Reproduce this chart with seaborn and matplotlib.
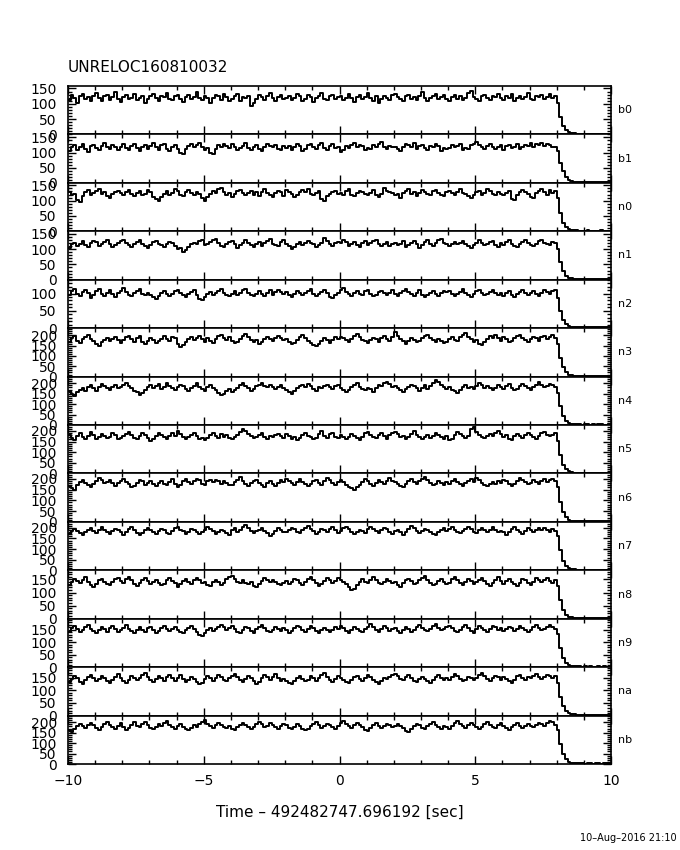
import numpy as np
import pandas as pd
import matplotlib
matplotlib.use('Agg')
import matplotlib.pyplot as plt
import seaborn as sns
from matplotlib.ticker import MultipleLocator

sns.set_theme(style='ticks')
plt.rcParams['font.family'] = ['DejaVu Sans']
plt.rcParams['text.color'] = 'black'
plt.rcParams['xtick.color'] = 'black'
plt.rcParams['ytick.color'] = 'black'

# detectores y limites del eje y
detectors = ['b0', 'b1', 'n0', 'n1', 'n2', 'n3', 'n4', 'n5', 'n6', 'n7', 'n8', 'n9', 'na', 'nb']
ymax = [158, 160, 158, 158, 140, 235, 232, 228, 225, 228, 185, 195, 192, 232]

# bins de tiempo de 0.1 s (borde izquierdo) de -10 a 10
t_left = np.linspace(-10, 9.9, 200)

# tasas (cuentas)
b0 = [112, 128, 119, 104, 125, 133, 116, 121, 108, 127, 136, 118, 110, 124, 130, 113, 122, 139, 117, 106,
      121, 129, 114, 120, 132, 111, 118, 126, 103, 115, 124, 131, 119, 109, 127, 122, 135, 116, 112, 125,
      130, 117, 107, 121, 128, 114, 123, 137, 120, 111, 126, 118, 104, 119, 129, 124, 113, 132, 121, 108,
      116, 125, 131, 110, 122, 118, 127, 94, 101, 117, 128, 121, 113, 126, 134, 119, 108, 123, 129, 115,
      120, 127, 111, 118, 133, 124, 109, 116, 128, 121, 105, 119, 126, 136, 117, 112, 124, 130, 115, 122,
      127, 113, 120, 131, 118, 107, 123, 129, 116, 121, 135, 119, 110, 125, 102, 114, 126, 120, 111, 128,
      133, 121, 115, 108, 124, 130, 117, 122, 113, 127, 138, 120, 109, 118, 126, 131, 116, 123, 129, 114,
      110, 122, 128, 117, 125, 112, 119, 134, 141, 121, 116, 108, 124, 130, 118, 113, 127, 122, 133, 119,
      112, 124, 118, 131, 109, 120, 127, 115, 122, 136, 117, 111, 126, 121, 129, 114, 123, 132, 118, 126,
      101, 58, 29, 14, 7, 5, 4, 3, 3, 2, 3, 2, 2, 3, 2, 2, 3, 2, 2, 3]
b1 = [106, 119, 124, 110, 117, 129, 113, 102, 121, 126, 115, 108, 123, 131, 117, 111, 125, 120, 107, 118,
      127, 114, 109, 122, 130, 116, 104, 119, 125, 113, 121, 133, 118, 110, 124, 128, 112, 105, 120, 126,
      113, 100, 96, 111, 122, 129, 117, 125, 132, 119, 109, 115, 99, 94, 112, 124, 118, 127, 121, 114,
      128, 120, 108, 115, 123, 131, 116, 110, 119, 126, 113, 104, 117, 129, 122, 118, 125, 111, 107, 121,
      116, 123, 110, 118, 127, 121, 105, 113, 124, 130, 119, 112, 126, 133, 115, 109, 121, 128, 114, 119,
      103, 108, 121, 115, 124, 131, 117, 126, 122, 110, 116, 113, 125, 119, 128, 134, 118, 111, 123, 117,
      120, 112, 106, 119, 127, 124, 118, 132, 113, 121, 125, 116, 109, 122, 117, 128, 123, 104, 115, 111,
      114, 126, 119, 122, 128, 108, 116, 111, 124, 130, 134, 125, 118, 113, 123, 127, 119, 112, 117, 124,
      110, 121, 126, 116, 120, 129, 113, 118, 125, 122, 132, 119, 127, 126, 133, 121, 128, 124, 120, 117,
      104, 66, 38, 20, 11, 6, 4, 3, 3, 2, 2, 3, 2, 2, 2, 3, 2, 2, 3, 2]
n0 = [128, 117, 122, 101, 97, 115, 129, 134, 119, 126, 131, 137, 122, 128, 116, 110, 121, 127, 133, 124,
      118, 129, 136, 121, 114, 126, 132, 119, 123, 135, 127, 113, 104, 98, 111, 122, 130, 118, 125, 139,
      131, 120, 114, 127, 135, 124, 117, 129, 122, 108, 100, 112, 123, 131, 126, 137, 140, 128, 119, 125,
      113, 121, 130, 136, 124, 118, 126, 133, 120, 127, 115, 129, 138, 125, 119, 112, 124, 131, 127, 116,
      135, 128, 121, 113, 118, 127, 134, 129, 139, 123, 117, 124, 130, 105, 99, 114, 122, 128, 133, 121,
      126, 119, 132, 137, 120, 116, 124, 131, 128, 122, 118, 125, 134, 119, 113, 121, 140, 133, 127, 124,
      117, 123, 110, 126, 132, 138, 121, 127, 116, 124, 135, 129, 122, 118, 131, 136, 125, 119, 114, 128,
      133, 124, 119, 129, 137, 126, 121, 114, 108, 120, 127, 132, 118, 125, 139, 130, 123, 117, 128, 121,
      119, 126, 131, 104, 101, 118, 127, 135, 129, 122, 113, 110, 124, 131, 137, 128, 120, 134, 126, 130,
      108, 60, 28, 13, 7, 4, 3, 3, 2, 2, 2, 3, 2, 2, 2, 2, 3, 2, 2, 2]
n1 = [105, 116, 121, 110, 118, 126, 113, 108, 119, 127, 123, 111, 115, 122, 129, 117, 106, 112, 120, 125,
      131, 119, 113, 108, 117, 124, 128, 115, 109, 103, 114, 122, 126, 118, 112, 107, 116, 123, 119, 110,
      99, 104, 92, 96, 108, 115, 121, 117, 126, 130, 112, 118, 123, 128, 133, 119, 111, 106, 117, 122,
      127, 116, 104, 112, 121, 128, 119, 113, 108, 117, 124, 111, 120, 126, 132, 118, 114, 109, 122, 128,
      115, 110, 101, 107, 118, 124, 113, 119, 127, 121, 115, 108, 112, 120, 135, 126, 117, 111, 119, 124,
      121, 129, 124, 110, 116, 122, 113, 106, 119, 126, 114, 121, 127, 131, 118, 111, 117, 123, 109, 115,
      120, 113, 118, 125, 108, 114, 121, 127, 118, 105, 112, 122, 128, 117, 111, 120, 129, 133, 121, 116,
      109, 118, 124, 115, 120, 126, 117, 110, 104, 113, 121, 128, 119, 112, 116, 123, 127, 114, 108, 121,
      113, 122, 129, 118, 110, 106, 115, 124, 131, 120, 114, 109, 118, 125, 130, 121, 116, 112, 124, 119,
      100, 58, 27, 13, 7, 4, 3, 3, 2, 2, 3, 2, 2, 2, 3, 2, 2, 2, 2, 3]
n2 = [96, 107, 112, 99, 93, 104, 110, 101, 88, 97, 106, 113, 100, 94, 103, 109, 98, 91, 102, 108,
      115, 104, 97, 92, 101, 108, 112, 99, 95, 103, 96, 89, 85, 94, 102, 107, 100, 93, 99, 106,
      111, 102, 96, 90, 98, 105, 109, 97, 83, 80, 91, 99, 104, 96, 101, 108, 113, 103, 97, 94,
      100, 107, 95, 103, 110, 114, 101, 96, 92, 100, 106, 99, 93, 102, 109, 97, 104, 111, 105, 98,
      104, 97, 91, 99, 106, 101, 95, 102, 108, 113, 100, 94, 98, 105, 110, 102, 90, 87, 96, 103,
      109, 116, 104, 98, 93, 101, 107, 100, 95, 106, 111, 99, 92, 97, 104, 108, 101, 96, 103, 110,
      98, 92, 101, 107, 112, 105, 99, 94, 103, 110, 96, 89, 95, 102, 106, 99, 93, 101, 108, 104,
      107, 100, 94, 99, 105, 112, 103, 97, 91, 100, 106, 109, 102, 95, 99, 104, 110, 101, 96, 103,
      94, 101, 108, 97, 90, 99, 105, 111, 103, 96, 101, 107, 98, 93, 102, 109, 104, 99, 106, 110,
      88, 50, 24, 11, 6, 4, 3, 2, 2, 2, 2, 2, 3, 2, 2, 2, 2, 2, 3, 2]
n3 = [168, 186, 197, 175, 162, 181, 193, 204, 184, 171, 160, 149, 166, 178, 188, 173, 182, 194, 179, 165,
      176, 191, 199, 183, 170, 185, 196, 168, 157, 174, 189, 178, 163, 172, 184, 198, 181, 175, 190, 186,
      159, 143, 151, 169, 181, 192, 176, 188, 197, 182, 170, 186, 174, 163, 180, 195, 203, 187, 178, 191,
      172, 161, 167, 184, 196, 207, 190, 178, 169, 177, 158, 166, 183, 194, 181, 173, 188, 199, 186, 176,
      183, 170, 157, 164, 178, 190, 201, 186, 174, 165, 152, 146, 158, 171, 185, 177, 163, 179, 192, 184,
      194, 188, 176, 169, 183, 197, 205, 191, 179, 172, 164, 177, 189, 181, 170, 185, 196, 182, 175, 190,
      215, 198, 184, 171, 160, 175, 188, 179, 166, 173, 186, 197, 203, 189, 176, 168, 181, 174, 161, 170,
      184, 193, 178, 172, 190, 201, 212, 194, 181, 168, 176, 159, 153, 167, 182, 196, 188, 201, 185, 174,
      190, 181, 166, 174, 187, 195, 203, 189, 177, 168, 181, 192, 185, 173, 190, 199, 184, 191, 202, 187,
      158, 92, 45, 21, 10, 6, 4, 3, 3, 3, 2, 3, 3, 2, 3, 2, 3, 3, 2, 3]
n4 = [162, 148, 141, 156, 169, 176, 165, 181, 190, 176, 164, 182, 197, 187, 175, 169, 180, 191, 178, 183,
      193, 201, 188, 177, 165, 158, 146, 154, 169, 180, 191, 177, 185, 196, 172, 181, 199, 188, 176, 167,
      180, 192, 185, 174, 163, 175, 189, 199, 184, 171, 165, 180, 193, 178, 166, 155, 143, 150, 162, 171,
      158, 166, 177, 190, 199, 186, 175, 163, 172, 185, 193, 203, 189, 180, 192, 184, 171, 180, 194, 176,
      168, 157, 148, 161, 175, 187, 193, 182, 197, 186, 173, 165, 180, 176, 186, 194, 181, 171, 185, 190,
      178, 169, 159, 167, 181, 192, 203, 184, 172, 166, 179, 173, 160, 177, 192, 186, 199, 208, 195, 181,
      188, 177, 168, 160, 171, 183, 194, 186, 176, 165, 179, 190, 173, 185, 201, 217, 204, 193, 183, 171,
      182, 170, 161, 152, 166, 181, 193, 176, 184, 172, 188, 201, 190, 178, 185, 179, 168, 176, 190, 183,
      173, 186, 195, 179, 166, 172, 185, 197, 189, 178, 170, 184, 193, 205, 191, 180, 186, 198, 190, 183,
      155, 90, 44, 20, 10, 6, 4, 3, 3, 2, 3, 3, 2, 3, 2, 3, 3, 2, 2, 3]
n5 = [180, 169, 158, 176, 188, 173, 163, 178, 194, 182, 161, 171, 186, 178, 165, 172, 188, 181, 160, 166,
      174, 185, 196, 180, 167, 162, 175, 188, 179, 166, 152, 163, 178, 190, 182, 170, 161, 175, 188, 177,
      198, 186, 173, 164, 170, 179, 190, 174, 161, 168, 156, 169, 181, 188, 176, 165, 185, 172, 182, 168,
      160, 171, 183, 194, 209, 199, 184, 176, 166, 173, 181, 192, 170, 162, 177, 171, 181, 186, 175, 167,
      187, 176, 164, 172, 156, 166, 181, 192, 178, 172, 160, 168, 185, 198, 176, 167, 184, 190, 171, 165,
      181, 173, 162, 170, 186, 176, 165, 158, 173, 188, 197, 183, 172, 166, 179, 191, 175, 163, 180, 189,
      195, 184, 170, 177, 164, 172, 185, 198, 180, 171, 162, 173, 181, 168, 177, 189, 183, 170, 163, 176,
      156, 164, 181, 195, 186, 177, 168, 174, 208, 220, 196, 183, 171, 166, 178, 184, 175, 189, 198, 185,
      172, 181, 163, 158, 176, 187, 177, 168, 183, 192, 180, 171, 162, 175, 188, 196, 183, 174, 181, 190,
      152, 86, 42, 20, 10, 6, 4, 3, 3, 2, 3, 2, 3, 3, 2, 2, 3, 2, 3, 2]
n6 = [165, 156, 150, 173, 185, 195, 181, 170, 161, 176, 190, 203, 196, 180, 186, 193, 179, 168, 182, 191,
      199, 186, 175, 162, 168, 181, 194, 188, 173, 181, 192, 177, 166, 180, 189, 176, 170, 183, 197, 178,
      160, 172, 189, 199, 185, 176, 190, 201, 193, 178, 171, 189, 196, 183, 195, 188, 176, 190, 181, 172,
      169, 183, 195, 208, 190, 177, 166, 180, 189, 196, 181, 172, 164, 179, 192, 176, 168, 181, 195, 185,
      200, 188, 179, 172, 186, 197, 184, 175, 165, 177, 189, 194, 180, 170, 188, 203, 193, 180, 172, 183,
      194, 183, 170, 162, 155, 146, 160, 173, 186, 199, 190, 176, 168, 181, 193, 185, 178, 191, 204, 192,
      187, 178, 168, 162, 175, 189, 199, 183, 176, 189, 200, 210, 195, 182, 171, 178, 190, 181, 170, 183,
      178, 189, 199, 187, 174, 166, 179, 190, 197, 184, 205, 193, 180, 172, 165, 174, 186, 176, 190, 181,
      195, 188, 178, 168, 176, 189, 205, 193, 183, 174, 181, 195, 186, 177, 190, 198, 186, 193, 201, 189,
      160, 93, 45, 21, 10, 6, 4, 3, 3, 3, 2, 3, 2, 3, 3, 2, 3, 2, 3, 3]
n7 = [170, 183, 195, 186, 176, 168, 180, 192, 199, 187, 175, 189, 202, 191, 180, 171, 184, 196, 188, 178,
      167, 180, 194, 203, 189, 177, 165, 175, 188, 199, 192, 180, 170, 183, 196, 188, 176, 169, 187, 198,
      205, 192, 183, 172, 181, 195, 190, 179, 170, 181, 192, 204, 196, 185, 173, 180, 191, 186, 175, 168,
      188, 198, 180, 191, 203, 214, 198, 187, 176, 183, 192, 199, 185, 174, 162, 173, 187, 198, 191, 179,
      180, 192, 201, 193, 182, 176, 189, 200, 207, 194, 185, 172, 179, 193, 190, 181, 195, 204, 188, 176,
      186, 198, 206, 194, 182, 169, 178, 192, 186, 174, 193, 204, 196, 185, 177, 190, 201, 194, 181, 171,
      183, 192, 178, 168, 181, 196, 209, 198, 187, 175, 186, 195, 190, 178, 170, 164, 180, 191, 200, 187,
      194, 205, 192, 181, 174, 183, 196, 206, 194, 181, 176, 190, 199, 188, 178, 192, 203, 189, 180, 186,
      178, 168, 181, 193, 203, 190, 180, 173, 186, 197, 189, 179, 192, 201, 188, 197, 191, 182, 194, 187,
      162, 95, 46, 22, 11, 6, 4, 3, 3, 3, 3, 2, 3, 3, 2, 3, 3, 2, 3, 3]
n8 = [130, 141, 152, 144, 136, 149, 158, 142, 129, 122, 134, 146, 153, 141, 133, 127, 139, 150, 157, 144,
      138, 151, 160, 146, 131, 124, 136, 147, 155, 143, 132, 140, 149, 138, 127, 134, 148, 156, 144, 137,
      122, 131, 144, 152, 141, 134, 148, 157, 146, 136, 141, 130, 124, 139, 149, 140, 128, 137, 151, 158,
      164, 151, 142, 136, 147, 138, 131, 140, 126, 121, 133, 145, 156, 148, 139, 149, 142, 134, 127, 138,
      145, 132, 139, 153, 146, 135, 129, 140, 151, 160, 148, 137, 126, 132, 144, 155, 147, 138, 143, 154,
      149, 139, 131, 122, 108, 115, 128, 139, 150, 142, 135, 148, 158, 146, 138, 131, 141, 153, 145, 136,
      141, 129, 122, 135, 146, 152, 143, 132, 138, 149, 155, 162, 147, 136, 127, 133, 144, 151, 140, 131,
      138, 150, 159, 146, 135, 127, 141, 152, 144, 133, 139, 148, 155, 143, 131, 124, 137, 149, 158, 145,
      132, 143, 152, 140, 134, 125, 137, 150, 146, 136, 130, 141, 154, 146, 139, 148, 157, 143, 137, 149,
      124, 70, 34, 16, 8, 5, 3, 3, 2, 2, 3, 2, 2, 3, 2, 2, 2, 3, 2, 2]
n9 = [143, 156, 165, 153, 140, 149, 161, 170, 155, 146, 136, 150, 162, 152, 143, 157, 166, 154, 141, 150,
      158, 168, 153, 144, 137, 148, 160, 150, 141, 156, 163, 151, 139, 146, 158, 167, 155, 147, 153, 162,
      150, 141, 136, 149, 159, 166, 154, 143, 131, 124, 137, 148, 156, 144, 152, 163, 171, 160, 149, 157,
      164, 152, 143, 137, 149, 160, 156, 145, 139, 152, 161, 170, 158, 146, 140, 151, 163, 155, 147, 158,
      149, 139, 146, 158, 167, 160, 150, 141, 154, 164, 157, 144, 137, 148, 156, 149, 140, 151, 162, 155,
      166, 158, 147, 139, 150, 161, 153, 145, 142, 155, 163, 172, 160, 150, 143, 152, 164, 156, 147, 154,
      157, 146, 137, 148, 160, 154, 143, 150, 161, 168, 156, 149, 144, 153, 165, 172, 159, 148, 155, 162,
      167, 158, 147, 140, 151, 162, 170, 157, 145, 139, 152, 164, 157, 148, 142, 155, 166, 160, 150, 158,
      145, 152, 163, 156, 147, 155, 166, 158, 149, 141, 150, 161, 168, 157, 148, 155, 163, 170, 160, 153,
      134, 78, 37, 18, 9, 5, 4, 3, 3, 2, 3, 2, 3, 2, 2, 3, 2, 3, 2, 2]
na = [132, 144, 155, 147, 134, 126, 140, 152, 161, 149, 137, 145, 156, 148, 138, 130, 142, 154, 163, 150,
      139, 131, 143, 155, 150, 140, 149, 160, 167, 153, 142, 134, 146, 157, 149, 139, 151, 160, 147, 136,
      150, 160, 146, 135, 141, 153, 146, 133, 124, 131, 145, 156, 150, 139, 148, 159, 152, 141, 136, 148,
      158, 166, 151, 140, 132, 144, 155, 148, 138, 127, 135, 147, 159, 152, 143, 154, 163, 150, 138, 145,
      139, 130, 126, 138, 150, 158, 146, 137, 143, 155, 150, 139, 147, 159, 167, 152, 141, 135, 145, 156,
      150, 141, 133, 128, 140, 152, 157, 146, 137, 149, 160, 151, 143, 134, 127, 139, 150, 144, 153, 160,
      164, 155, 146, 140, 151, 162, 149, 139, 133, 145, 153, 146, 137, 130, 142, 151, 159, 147, 140, 149,
      141, 152, 163, 157, 146, 136, 143, 154, 148, 140, 150, 161, 169, 155, 144, 139, 148, 158, 151, 143,
      152, 146, 137, 131, 142, 155, 162, 150, 143, 154, 148, 158, 166, 154, 146, 153, 161, 157, 149, 155,
      128, 74, 36, 17, 9, 6, 5, 4, 4, 3, 3, 3, 3, 3, 3, 3, 3, 3, 3, 3]
nb = [165, 152, 170, 184, 193, 180, 171, 186, 197, 185, 173, 164, 179, 191, 200, 186, 175, 168, 182, 195,
      176, 165, 173, 188, 199, 184, 175, 190, 201, 187, 174, 166, 178, 192, 183, 196, 205, 189, 177, 170,
      183, 194, 179, 168, 161, 174, 186, 178, 190, 201, 210, 194, 182, 174, 186, 197, 185, 176, 171, 183,
      169, 162, 175, 188, 198, 186, 175, 167, 179, 193, 203, 190, 178, 183, 196, 187, 176, 168, 182, 194,
      186, 174, 166, 178, 191, 182, 170, 161, 168, 180, 192, 199, 185, 173, 180, 194, 188, 177, 170, 184,
      196, 205, 191, 180, 172, 185, 198, 187, 176, 165, 160, 174, 188, 197, 184, 173, 181, 192, 186, 175,
      183, 194, 181, 171, 160, 155, 169, 182, 193, 185, 174, 168, 180, 191, 199, 186, 177, 170, 181, 176,
      170, 183, 196, 205, 192, 181, 174, 186, 197, 188, 176, 168, 179, 191, 200, 186, 177, 171, 186, 197,
      182, 173, 165, 175, 188, 197, 183, 172, 180, 194, 184, 178, 186, 198, 190, 182, 195, 204, 199, 188,
      165, 96, 46, 22, 11, 6, 4, 3, 3, 3, 2, 3, 3, 2, 3, 3, 2, 3, 3, 2]

rates = [b0, b1, n0, n1, n2, n3, n4, n5, n6, n7, n8, n9, na, nb]

# tabla larga para seaborn (se repite el ultimo valor en t=10 para cerrar el escalon)
frames = []
for det, r in zip(detectors, rates):
    frames.append(pd.DataFrame({'time': np.append(t_left, 10.0),
                                'rate': np.append(r, r[-1]),
                                'det': det}))
df = pd.concat(frames, ignore_index=True)

fig = plt.figure(figsize=(6.8, 8.5), dpi=100)
left = 68 / 680
width = 543 / 680
top = 1 - 86 / 850
h = (678 / 850) / 14

for i, det in enumerate(detectors):
    ax = fig.add_axes([left, top - (i + 1) * h, width, h])
    sns.lineplot(data=df[df['det'] == det], x='time', y='rate', ax=ax,
                 color='black', lw=1.4, drawstyle='steps-post', estimator=None)
    ax.set_xlim(-10, 10)
    ax.set_ylim(0, ymax[i])
    ax.set_xlabel('')
    ax.set_ylabel('')
    ax.xaxis.set_major_locator(MultipleLocator(5))
    ax.xaxis.set_minor_locator(MultipleLocator(1))
    ax.yaxis.set_major_locator(MultipleLocator(50))
    ax.yaxis.set_minor_locator(MultipleLocator(10))
    ax.tick_params(which='both', direction='in', top=True, right=True, width=1)
    ax.tick_params(which='major', length=6)
    ax.tick_params(which='minor', length=3)
    ax.tick_params(axis='y', labelsize=10, pad=8)
    ax.tick_params(axis='x', labelsize=10, pad=7)
    if i < len(detectors) - 1:
        ax.tick_params(axis='x', labelbottom=False)
    for s in ax.spines.values():
        s.set_color('black')
        s.set_linewidth(1.2)
    ax.set_facecolor('white')
    ax.text(1.012, 0.5, det, transform=ax.transAxes, ha='left', va='center', fontsize=8)

fig.text(68 / 680, 1 - 68 / 850, 'UNRELOC160810032', ha='left', va='center', fontsize=11)
fig.text(340 / 680, 1 - 812 / 850, 'Time \u2013 492482747.696192 [sec]', ha='center', va='center', fontsize=11)
fig.text(677 / 680, 1 - 838 / 850, '10\u2013Aug\u20132016 21:10', ha='right', va='center', fontsize=7)

fig.savefig('out.png', dpi=100, facecolor='white')
